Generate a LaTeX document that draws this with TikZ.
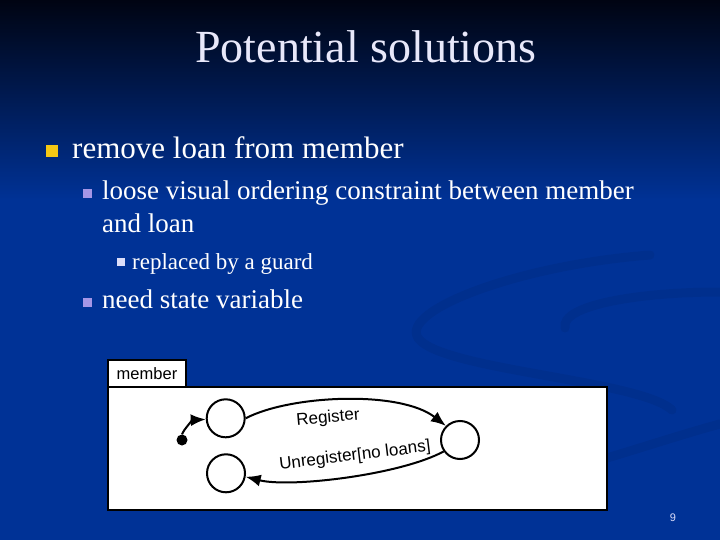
\documentclass[tikz,border=0pt]{standalone}
\usepackage{fontspec}
\setmainfont{Liberation Serif}
\newfontfamily\diagfont{Liberation Sans}
\usetikzlibrary{positioning,arrows.meta}
\definecolor{SlideBlue}{RGB}{0,50,150}
\definecolor{SlideDark}{RGB}{0,4,18}
\definecolor{TitleWhite}{RGB}{232,232,250}
\definecolor{BulletYellow}{RGB}{245,200,20}
\definecolor{BulletLilac}{RGB}{165,150,230}
\definecolor{BulletPale}{RGB}{220,222,250}

\begin{document}
\begin{tikzpicture}[x=1pt, y=-1pt,
    % Styles for the slide text
    titletext/.style={text=TitleWhite, font=\fontsize{46}{50}\selectfont, anchor=base, inner sep=0pt},
    lvlone/.style={text=white, font=\fontsize{31}{36}\selectfont, anchor=base west, inner sep=0pt},
    lvltwo/.style={text=white, font=\fontsize{27}{32}\selectfont, anchor=base west, inner sep=0pt},
    lvlthree/.style={text=white, font=\fontsize{23}{27}\selectfont, anchor=base west, inner sep=0pt},
    % Bullet squares
    bulletone/.style={fill=BulletYellow, minimum size=12pt, inner sep=0pt},
    bullettwo/.style={fill=BulletLilac, minimum size=9pt, inner sep=0pt},
    bulletthree/.style={fill=BulletPale, minimum size=8pt, inner sep=0pt},
    % Background swoosh
    swoosh/.style={draw=black, opacity=0.06, line width=9pt, line cap=round},
    % State machine
    state/.style={circle, draw=black, fill=white, line width=2pt, minimum size=38pt, inner sep=0pt},
    initstate/.style={circle, fill=black, minimum size=11pt, inner sep=0pt},
    trans/.style={-{Latex[length=15pt,width=12pt]}, line width=2pt},
    translabel/.style={font=\diagfont\fontsize{17}{19}\selectfont, inner sep=0pt}
  ]
  % --- BACKGROUND ---
  \useasboundingbox (0,0) rectangle (720,540);
  \shade[top color=SlideDark, bottom color=SlideBlue] (0,0) rectangle (720,200);
  \fill[SlideBlue] (0,199) rectangle (720,540);
  \draw[swoosh] (650,255) .. controls (520,265) and (400,310) .. (418,338)
    .. controls (440,370) and (640,380) .. (672,410);
  \draw[swoosh] (720,292) .. controls (640,292) and (560,305) .. (565,328);
  \draw[swoosh] (607,458) .. controls (650,445) and (690,432) .. (720,424);

  % --- TITLE ---
  \node[titletext] (title) at (366,63) {Potential solutions};

  % --- BULLETS ---
  \node[bulletone] (b1) at (51.5,151) {};
  \node[lvlone] (t1) at (72,159) {remove loan from member};

  \node[bullettwo] (b2) at (87,194) {};
  \node[lvltwo] (t2) at (102,200) {loose visual ordering constraint between member};
  \node[lvltwo] (t2b) at (102,233) {and loan};

  \node[bulletthree] (b3) at (120.5,262) {};
  \node[lvlthree] (t3) at (132,269) {replaced by a guard};

  \node[bullettwo] (b4) at (87,302) {};
  \node[lvltwo] (t4) at (102,308) {need state variable};

  % --- STATE DIAGRAM ---
  \draw[fill=white, line width=2pt] (108,387) rectangle (607,510);
  \node[draw, fill=white, line width=2pt, minimum width=78pt, minimum height=27pt,
        inner sep=0pt, font=\diagfont\fontsize{16.5}{18}\selectfont] (tab) at (147,373.5) {member};

  \node[initstate] (init) at (182,440) {};
  \node[state] (s1) at (225.7,418.3) {};
  \node[state] (s2) at (226,473.3) {};
  \node[state] (s3) at (460,440) {};

  \draw[trans] (init.north) .. controls (184,429) and (193,420) .. (s1.183);
  \draw[trans] (s1.east) .. controls (290,395) and (400,390) .. (s3.135);
  \draw[trans] (s3.215) .. controls (400,475) and (290,488) .. (s2.350);

  \node[translabel, rotate=5] (reg) at (328,418) {Register};
  \node[translabel, rotate=7] (unreg) at (355,456) {Unregister[no loans]};

  % --- PAGE NUMBER ---
  \node[text=BulletPale, font=\diagfont\fontsize{11}{12}\selectfont] (pg) at (673,518) {9};
\end{tikzpicture}
\end{document}
